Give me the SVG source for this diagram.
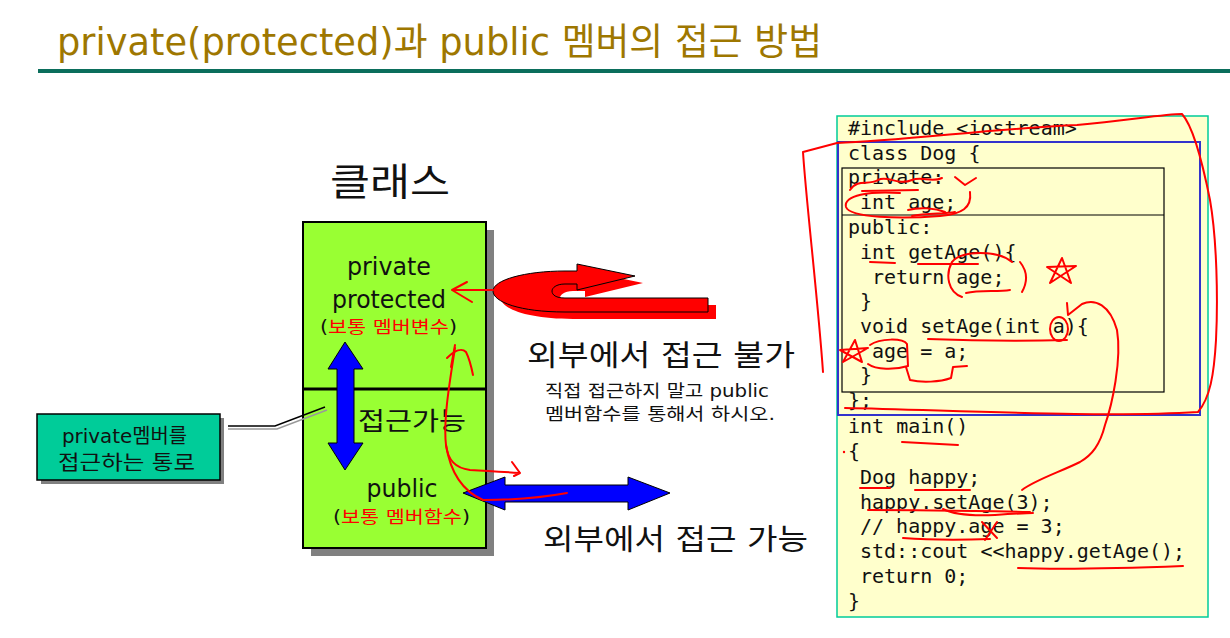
<svg xmlns="http://www.w3.org/2000/svg" width="1230" height="638" viewBox="0 0 1230 638">
<style>
.ko{font-family:"DejaVu Sans","Noto Sans CJK KR",sans-serif;fill:#111}
.red{fill:#FF0000}
.code{font-family:"DejaVu Sans Mono","Liberation Mono",monospace;font-size:20px;fill:#111}
.pen{fill:none;stroke:#FF0000;stroke-width:2;stroke-linecap:round;stroke-linejoin:round}
.shadow{fill:#808080}
</style>
<rect width="1230" height="638" fill="#FFFFFF"/>
<g id="title">
<text x="57" y="55" class="ko" style="fill:#9E7700;font-size:37px" textLength="765" lengthAdjust="spacingAndGlyphs">private(protected)과 public 멤버의 접근 방법</text>
<rect x="38" y="69" width="1192" height="4" fill="#0B6E5C"/>
</g>
<g id="class-label">
<text x="390" y="195" class="ko" style="font-size:38px" text-anchor="middle" textLength="120" lengthAdjust="spacingAndGlyphs">클래스</text>
</g>
<g id="class-box">
<rect class="shadow" x="311" y="230" width="183" height="326"/>
<rect x="303" y="222" width="183" height="326" fill="#99FF33" stroke="#000" stroke-width="2"/>
<line x1="303" y1="389" x2="486" y2="389" stroke="#000" stroke-width="3"/>
<text x="389" y="275" class="ko" style="font-size:25px" text-anchor="middle" textLength="84" lengthAdjust="spacingAndGlyphs">private</text>
<text x="389" y="308" class="ko" style="font-size:25px" text-anchor="middle" textLength="114" lengthAdjust="spacingAndGlyphs">protected</text>
<text x="320" y="333" class="ko" style="font-size:17px" textLength="137" lengthAdjust="spacingAndGlyphs">(<tspan class="red">보통 멤버변수</tspan>)</text>
<path d="M345,342 L363,369 L354,369 L354,443 L363,443 L345,470 L328,443 L337,443 L337,369 L328,369 Z" fill="#0000FF" stroke="#000" stroke-width="1"/>
<text x="358" y="430" class="ko" style="font-size:25px" textLength="108" lengthAdjust="spacingAndGlyphs">접근가능</text>
<text x="402" y="497" class="ko" style="font-size:25px" text-anchor="middle" textLength="71" lengthAdjust="spacingAndGlyphs">public</text>
<text x="333" y="523" class="ko" style="font-size:17px" textLength="137" lengthAdjust="spacingAndGlyphs">(<tspan class="red">보통 멤버함수</tspan>)</text>
</g>
<g id="path-label">
<rect class="shadow" x="41" y="418" width="183" height="66"/>
<rect x="37" y="414" width="183" height="66" fill="#00CC99" stroke="#000" stroke-width="1.5"/>
<text x="62" y="443" class="ko" style="font-size:20px" textLength="125" lengthAdjust="spacingAndGlyphs">private멤버를</text>
<text x="58" y="470" class="ko" style="font-size:20px" textLength="137" lengthAdjust="spacingAndGlyphs">접근하는 통로</text>
</g>
<g id="connectors">
<polyline points="228,429 277,429 327,410" fill="none" stroke="#999" stroke-width="1.5"/>
<polyline points="228,426 275,426 325,407" fill="none" stroke="#000" stroke-width="1.5"/>
</g>
<g id="no-access-arrow">
<path transform="translate(8,7)" d="M708,312 L565,312 C520,312 493,302 493,291 C493,280 525,271 565,271 L577,271 L577,264 L635,276 L577,290 L577,284 L565,284 C556,284 552,288 552,291 C552,295 556,298 565,298 L708,298 Z" fill="#FF0000"/>
<path d="M708,312 L565,312 C520,312 493,302 493,291 C493,280 525,271 565,271 L577,271 L577,264 L635,276 L577,290 L577,284 L565,284 C556,284 552,288 552,291 C552,295 556,298 565,298 L708,298 Z" fill="#FF0000" stroke="#000" stroke-width="1"/>
<text x="527" y="366" class="ko" style="font-size:29px" textLength="268" lengthAdjust="spacingAndGlyphs">외부에서 접근 불가</text>
<text x="545" y="397" class="ko" style="font-size:17px" textLength="224" lengthAdjust="spacingAndGlyphs">직접 접근하지 말고 public</text>
<text x="545" y="420" class="ko" style="font-size:17px" textLength="230" lengthAdjust="spacingAndGlyphs">멤버함수를 통해서 하시오.</text>
</g>
<g id="access-arrow">
<path d="M463,493 L505,477 L505,485 L628,485 L628,477 L670,493 L628,510 L628,502 L505,502 L505,510 Z" fill="#0000FF" stroke="#000" stroke-width="1"/>
<text x="543" y="550" class="ko" style="font-size:29px" textLength="265" lengthAdjust="spacingAndGlyphs">외부에서 접근 가능</text>
</g>
<g id="code-box">
<rect x="837" y="116" width="371" height="501" fill="#FFFFCC" stroke="#00CC99" stroke-width="1.5"/>
<rect x="838" y="142" width="362" height="273" fill="none" stroke="#3333CC" stroke-width="2"/>
<rect x="842" y="168" width="322" height="224" fill="none" stroke="#000" stroke-width="1.2"/>
<line x1="842" y1="215" x2="1164" y2="215" stroke="#000" stroke-width="1.2"/>
<text class="code" x="848" y="135">#include &lt;iostream&gt;</text>
<text class="code" x="848" y="160">class Dog {</text>
<text class="code" x="848" y="184">private:</text>
<text class="code" x="860" y="209">int age;</text>
<text class="code" x="848" y="234">public:</text>
<text class="code" x="860" y="259">int getAge(){</text>
<text class="code" x="872" y="284">return age;</text>
<text class="code" x="860" y="308">}</text>
<text class="code" x="860" y="333">void setAge(int a){</text>
<text class="code" x="872" y="358">age = a;</text>
<text class="code" x="860" y="382">}</text>
<text class="code" x="848" y="407">};</text>
<text class="code" x="848" y="433">int main()</text>
<text class="code" x="848" y="458">{</text>
<text class="code" x="860" y="484">Dog happy;</text>
<text class="code" x="860" y="509">happy.setAge(3);</text>
<text class="code" x="860" y="533">// happy.age = 3;</text>
<text class="code" x="860" y="558">std::cout &lt;&lt;happy.getAge();</text>
<text class="code" x="860" y="583">return 0;</text>
<text class="code" x="848" y="608">}</text>
</g>
<g id="annotations">
<path class="pen" d="M823,372 C818,300 806,200 803,152 L837,143 C900,141 1000,128 1077,125 C1130,120 1165,114 1182,114 C1192,125 1202,160 1210,200 C1217,240 1218,300 1216,340 C1214,375 1210,398 1198,412 C1100,418 950,410 845,408"/>
<path class="pen" d="M850,190 C858,178 868,186 878,180 C888,175 898,186 912,180 C922,176 932,183 942,178"/>
<path class="pen" d="M955,177 L965,185 L976,178"/>
<path class="pen" d="M862,191 L918,190"/>
<path class="pen" d="M900,193 C870,191 843,195 846,207 C850,218 900,219 940,216 C962,214 972,208 970,192"/>
<path class="pen" d="M908,210 C920,207 935,208 945,212 M912,216 C925,213 945,214 955,212"/>
<path class="pen" d="M870,262 L895,263 M918,264 L978,264"/>
<path class="pen" d="M1012,262 C998,250 962,250 952,262 C945,275 948,292 962,297 M1020,262 C1028,272 1027,283 1022,292"/>
<path class="pen" d="M966,293 C980,290 998,292 1010,290"/>
<path class="pen" d="M1050,283 L1062,258 L1071,283 L1047,267 L1076,266 Z"/>
<path class="pen" d="M928,339 C980,341 1030,341 1067,340"/>
<ellipse class="pen" cx="1059" cy="329" rx="9" ry="12"/>
<path class="pen" d="M1067,303 L1068,315 L1082,304 C1095,298 1110,305 1117,330 C1122,360 1112,405 1105,425 C1100,445 1092,455 1080,462 C1060,472 1035,480 1022,490"/>
<path class="pen" d="M843,362 L855,340 L862,362 L840,350 L868,348 Z"/>
<path class="pen" d="M870,345 C880,338 903,338 907,344 L908,366 C895,370 876,370 868,364"/>
<path class="pen" d="M906,367 L910,380 C922,383 940,382 951,378 L953,367 L967,366"/>
<path class="pen" d="M902,442 C920,443 940,444 958,445"/>
<circle cx="844" cy="452" r="1.2" fill="#FF0000"/>
<path class="pen" d="M860,488 L890,488 M915,490 L970,490"/>
<path class="pen" d="M868,510 C920,510 980,511 1030,512"/>
<path class="pen" d="M943,509 C955,515 975,516 995,515 C1010,514 1025,513 1033,513"/>
<path class="pen" d="M903,538 C930,540 960,540 990,539"/>
<path class="pen" d="M982,522 L997,538 M997,522 L985,540"/>
<path class="pen" d="M1018,568 C1070,570 1130,568 1183,566"/>
<path class="pen" d="M493,290 L452,290 M467,282 L452,290 L472,302"/>
<path class="pen" d="M455,345 L451,367 M447,358 C455,350 462,348 466,352 C470,360 472,370 473,375"/>
<path class="pen" d="M455,348 C450,380 443,420 446,445 C448,460 455,468 470,470 C490,471 505,472 520,473 M512,462 L520,473 L514,476"/>
<path class="pen" d="M446,445 C450,470 460,490 483,500 C510,500 545,497 567,493"/>
</g>
</svg>
